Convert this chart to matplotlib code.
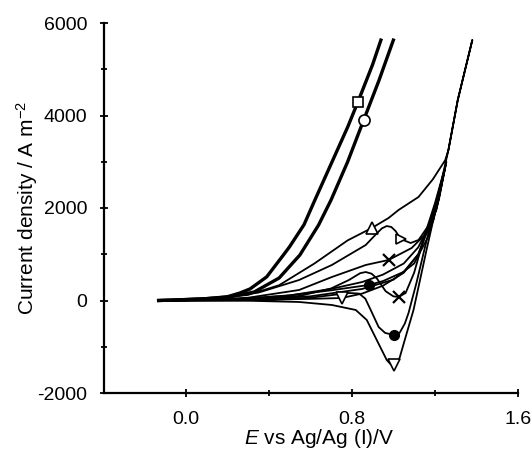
import matplotlib
matplotlib.use("Agg")
import matplotlib.pyplot as plt

plt.rcParams['font.family'] = ['Liberation Sans', 'DejaVu Sans']
plt.rcParams['mathtext.fontset'] = 'custom'
plt.rcParams['mathtext.rm'] = 'Liberation Sans'
plt.rcParams['mathtext.it'] = 'Liberation Sans:italic'

# Curva gruesa con cuadrado
sq_x = [-0.13, 0.0, 0.1, 0.2, 0.26, 0.31, 0.39, 0.47, 0.5, 0.57, 0.62, 0.7, 0.78, 0.829, 0.9, 0.94]
sq_y = [0, 20, 40, 80, 160, 250, 510, 980, 1160, 1640, 2150, 2950, 3750, 4290, 5100, 5630]
sq_mark = [13]

# Curva gruesa con circulo
ci_x = [-0.13, 0.0, 0.1, 0.21, 0.33, 0.45, 0.55, 0.64, 0.7, 0.78, 0.857, 0.93, 1.0]
ci_y = [0, 20, 40, 76, 184, 486, 984, 1632, 2173, 3000, 3900, 4750, 5630]
ci_mark = [10]

# Curva fina con triangulo (la que sube hasta 1.38 V)
tr_x = [-0.13, 0.1, 0.3, 0.5, 0.7, 0.85, 0.95, 1.05, 1.12, 1.18, 1.22, 1.265, 1.31, 1.38,
        1.31, 1.265, 1.25, 1.19, 1.121, 1.025, 0.977, 0.896, 0.78, 0.62, 0.45, 0.3, 0.1, -0.13]
tr_y = [0, 10, 40, 110, 250, 400, 560, 800, 1150, 1700, 2350, 3254, 4335, 5630,
        4335, 3254, 3037, 2620, 2238, 1957, 1784, 1567, 1300, 800, 330, 120, 30, 0]
tr_mark = [21]

# Curva con joroba
bu_x = [-0.13, 0.3, 0.6, 0.85, 1.0, 1.1, 1.17, 1.22, 1.255,
        1.207, 1.178, 1.121, 1.083, 1.035, 1.011, 0.99, 0.968, 0.945, 0.92, 0.867, 0.704, 0.546, 0.35, 0.1, -0.13]
bu_y = [0, 20, 90, 250, 450, 800, 1400, 2200, 3000,
        1957, 1676, 1308, 1243, 1330, 1500, 1590, 1610, 1560, 1450, 1200, 768, 443, 170, 30, 0]
bu_mark = [13]

# Curva con aspas
cr_x = [-0.13, 0.3, 0.55, 0.7, 0.786, 0.84, 0.867, 0.895, 0.92, 0.963, 1.0, 1.025, 1.059, 1.1, 1.15, 1.2, 1.25,
        1.193, 1.16, 1.088, 0.977, 0.867, 0.704, 0.546, 0.3, 0.1, -0.13]
cr_y = [0, 15, 100, 260, 443, 590, 616, 580, 480, 200, 90, 76, 162, 600, 1400, 2100, 2900,
        1740, 1460, 1135, 876, 768, 508, 227, 60, 15, 0]
cr_mark = [11, 20]

# Curva con circulos rellenos
do_x = [-0.13, 0.3, 0.6, 0.786, 0.835, 0.865, 0.891, 0.929, 0.96, 1.001, 1.03, 1.055, 1.073, 1.111, 1.16, 1.2, 1.245,
        1.18, 1.12, 1.05, 0.95, 0.881, 0.7, 0.5, 0.2, -0.13]
do_y = [0, 5, 60, 162, 150, 40, -205, -573, -700, -746, -700, -500, -270, 378, 1300, 2000, 2800,
        1700, 1000, 620, 420, 335, 220, 110, 20, 0]
do_mark = [9, 21]

# Curva con triangulos invertidos
tv_x = [-0.13, 0.3, 0.546, 0.704, 0.819, 0.872, 0.92, 0.968, 0.985, 1.001, 1.015, 1.03, 1.059, 1.097, 1.121, 1.16, 1.2, 1.24,
        1.18, 1.12, 1.05, 0.95, 0.85, 0.752, 0.6, 0.3, -0.13]
tv_y = [0, -5, -32, -97, -205, -421, -854, -1286, -1370, -1400, -1370, -1240, -789, -205, 292, 1100, 1900, 2700,
        1700, 1000, 600, 320, 150, 54, 35, 10, 0]
tv_mark = [9, 23]

fig = plt.figure(figsize=(5.32, 4.49), dpi=100)
ax = fig.add_axes([104 / 532, 1 - 393 / 449, 414 / 532, 370 / 449])

blanco = dict(markerfacecolor='white', markeredgecolor='black', markeredgewidth=1.2)
ax.plot(sq_x, sq_y, color='black', lw=2.4, marker='s', markersize=7, markevery=sq_mark, **blanco)
ax.plot(ci_x, ci_y, color='black', lw=2.4, marker='o', markersize=8, markevery=ci_mark, **blanco)
ax.plot(tr_x, tr_y, color='black', lw=1.3, marker='^', markersize=8, markevery=tr_mark, **blanco)
ax.plot(bu_x, bu_y, color='black', lw=1.3, marker='>', markersize=7, markevery=bu_mark, **blanco)
ax.plot(cr_x, cr_y, color='black', lw=1.3, marker='x', markersize=8, markeredgewidth=1.6, markevery=cr_mark)
ax.plot(do_x, do_y, color='black', lw=1.3, marker='o', markersize=7, markevery=do_mark)
ax.plot(tv_x, tv_y, color='black', lw=1.3, marker='v', markersize=8, markevery=tv_mark, **blanco)

ax.set_xlim(-0.393, 1.6)
ax.set_ylim(-2000, 6000)
ax.set_xticks([0.0, 0.8, 1.6])
ax.set_xticklabels(["0.0", "0.8", "1.6"])
ax.set_xticks([0.4, 1.2], minor=True)
ax.set_yticks([-2000, 0, 2000, 4000, 6000])
ax.set_yticklabels(["-2000", "0", "2000", "4000", "6000"])
ax.set_yticks([-1000, 1000, 3000, 5000], minor=True)

ax.spines['top'].set_visible(False)
ax.spines['right'].set_visible(False)
ax.spines['left'].set_linewidth(1.6)
ax.spines['bottom'].set_linewidth(1.6)
ax.tick_params(which='both', direction='inout', width=1.3, labelsize=14)
ax.tick_params(which='major', length=6)
ax.tick_params(which='minor', length=5)
ax.tick_params(axis='x', pad=10)
ax.tick_params(axis='y', pad=9)

ax.set_ylabel("Current density / A m$^{-2}$", fontsize=15)
ax.yaxis.set_label_coords(-0.154, 0.5)
ax.set_xlabel("$\\mathit{E}$ vs Ag/Ag (I)/V", fontsize=15)
ax.xaxis.set_label_coords(0.52, -0.092)

fig.savefig("out.png", dpi=100)
